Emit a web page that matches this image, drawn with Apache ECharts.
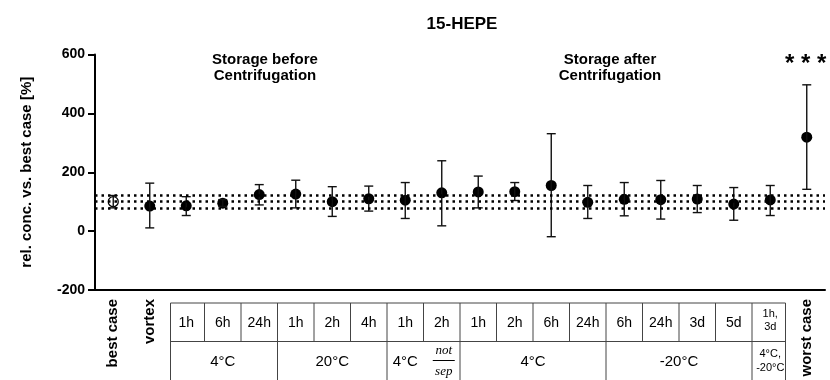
<!DOCTYPE html>
<html>
<head>
<meta charset="utf-8">
<script src="https://cdn.jsdelivr.net/npm/echarts@6/dist/echarts.min.js"></script>
<style>html,body{margin:0;padding:0;background:#fff;}#c{width:830px;height:380px;}</style>
</head>
<body>
<div id="c"></div>
<script>
// ---- data ----
var categories = ['best case','vortex','1h','6h','24h','1h','2h','4h','1h','2h','1h','2h','6h','24h','6h','24h','3d','5d','1h,\n3d','worst case'];
var rotatedLabels = ['best case','vortex','','','','','','','','','','','','','','','','','','worst case'];
var rowLabels = ['','','1h','6h','24h','1h','2h','4h','1h','2h','1h','2h','6h','24h','6h','24h','3d','5d','1h,\n3d',''];
var means = [100, 85, 86, 95, 124, 126, 100, 110, 105, 130, 133, 134, 155, 98, 108, 107, 109, 92, 106, 319];
var upper = [121, 163, 117, 107, 158, 173, 151, 153, 165, 239, 187, 165, 331, 155, 165, 172, 155, 148, 155, 497];
var lower = [79, 11, 53, 84, 89, 79, 50, 68, 43, 18, 79, 104, -19, 43, 52, 41, 63, 37, 53, 142];
var refLines = [121, 100, 79];
var groups = [
  {label:'4°C', from:2, to:4},
  {label:'20°C', from:5, to:7},
  {label:'4°C', from:8, to:9, note:true},
  {label:'4°C', from:10, to:13},
  {label:'-20°C', from:14, to:17},
  {label:'4°C,\n-20°C', from:18, to:18, small:true}
];
var yTicks = [-200, 0, 200, 400, 600];

var FONT = '"Liberation Sans", Arial, sans-serif';
var idx = categories.map(function(_, i){ return String(i); });

var chart = echarts.init(document.getElementById('c'), null, {renderer:'canvas'});

var filled = [], open = [];
means.forEach(function(v, i){
  if (i === 0) open.push([String(i), v]); else filled.push([String(i), v]);
});
var errData = means.map(function(v, i){ return [String(i), lower[i], upper[i]]; });

var option = {
  animation: false,
  backgroundColor: '#fff',
  title: {
    text: '15-HEPE', left: 457, top: 11, textAlign: 'center',
    textStyle: {fontFamily: FONT, fontSize: 17, fontWeight: 'bold', color: '#000'}
  },
  grid: {left: 95, right: 5, top: 54.5, bottom: 90, containLabel: false},
  xAxis: {
    type: 'category', data: idx,
    axisLine: {onZero: false, lineStyle: {color: '#000', width: 2}},
    axisTick: {alignWithLabel: true, interval: 0, length: 6, lineStyle: {color: '#000', width: 2}},
    axisLabel: {
      interval: 0, rotate: 90, margin: 9,
      fontFamily: FONT, fontSize: 15, fontWeight: 'bold', color: '#000',
      formatter: function(v){ return rotatedLabels[+v]; }
    },
    splitLine: {show: false}
  },
  yAxis: {
    type: 'value', min: -200, max: 600, interval: 200,
    name: 'rel. conc. vs. best case [%]', nameLocation: 'middle', nameGap: 61,
    nameTextStyle: {fontFamily: FONT, fontSize: 15, fontWeight: 'bold', color: '#000'},
    axisLine: {show: true, lineStyle: {color: '#000', width: 2}},
    axisTick: {show: true, length: 7, lineStyle: {color: '#000', width: 2}},
    axisLabel: {margin: 10, fontFamily: FONT, fontSize: 14, fontWeight: 'bold', color: '#000',
      formatter: function(v){ return yTicks.indexOf(v) >= 0 ? String(v) : ''; }},
    splitLine: {show: false}
  },
  series: [
    {
      type: 'scatter', name: 'best', data: open, symbol: 'circle', symbolSize: 10, z: 3,
      itemStyle: {color: 'rgba(255,255,255,0)', borderColor: '#000', borderWidth: 1.3, opacity: 1},
      markLine: {
        silent: true, symbol: 'none', label: {show: false},
        lineStyle: {color: '#000', type: [2.5, 4], width: 2.5, opacity: 1},
        data: refLines.map(function(v){ return {yAxis: v}; })
      }
    },
    {
      type: 'scatter', name: 'samples', data: filled, symbol: 'circle', symbolSize: 11, z: 3,
      itemStyle: {color: '#000', opacity: 1}
    },
    {
      type: 'custom', name: 'err', data: errData, z: 4,
      renderItem: function(params, api){
        var x = api.value(0);
        var lo = api.coord([x, api.value(1)]);
        var hi = api.coord([x, api.value(2)]);
        var hw = 4.5;
        var st = {stroke: '#111', lineWidth: 1.4};
        return {type: 'group', children: [
          {type: 'line', shape: {x1: lo[0], y1: lo[1], x2: hi[0], y2: hi[1]}, style: st},
          {type: 'line', shape: {x1: hi[0]-hw, y1: hi[1], x2: hi[0]+hw, y2: hi[1]}, style: st},
          {type: 'line', shape: {x1: lo[0]-hw, y1: lo[1], x2: lo[0]+hw, y2: lo[1]}, style: st}
        ]};
      }
    }
  ]
};
chart.setOption(option);

// ---- table & annotations positioned from the chart's own scales ----
function cx(i){ return chart.convertToPixel({xAxisIndex: 0}, String(i)); }
var band = cx(1) - cx(0);
function bL(i){ return cx(i) - band/2; }
function bR(i){ return cx(i) + band/2; }

var tTop = 303, tMid = 341.5, tBot = 381;
var g = [];
var lineSt = {stroke: '#444', lineWidth: 1};
var tLeft = bL(2) + 2.5, tRight = bR(18) - 3;
g.push({type:'line', shape:{x1:tLeft, y1:tTop, x2:tRight, y2:tTop}, style: lineSt});
g.push({type:'line', shape:{x1:tLeft, y1:tMid, x2:tRight, y2:tMid}, style: lineSt});
g.push({type:'line', shape:{x1:tLeft, y1:tTop, x2:tLeft, y2:tBot}, style: lineSt});
g.push({type:'line', shape:{x1:tRight, y1:tTop, x2:tRight, y2:tBot}, style: lineSt});
for (var i = 3; i <= 18; i++) {
  g.push({type:'line', shape:{x1:bL(i), y1:tTop, x2:bL(i), y2:tMid}, style: lineSt});
}
rowLabels.forEach(function(t, i){
  if (!t) return;
  var small = t.indexOf('\n') >= 0;
  g.push({type:'text', x: cx(i), y: small ? 320 : 323, style:{
    text: t, fontFamily: FONT, fontSize: small ? 11 : 14, fill: '#000',
    align: 'center', verticalAlign: 'middle', lineHeight: small ? 13 : 16
  }});
});
groups.forEach(function(gr, k){
  if (k > 0) g.push({type:'line', shape:{x1:bL(gr.from), y1:tMid, x2:bL(gr.from), y2:tBot}, style: lineSt});
  var c = (cx(gr.from) + cx(gr.to)) / 2;
  if (gr.note) {
    g.push({type:'text', x: cx(gr.from), y: 362, style:{text: gr.label, fontFamily: FONT, fontSize: 15, fill:'#000', align:'center', verticalAlign:'middle'}});
    var nx = cx(gr.to) + 2;
    g.push({type:'text', x: nx, y: 351, style:{text:'not', fontFamily:'"Liberation Serif", serif', fontStyle:'italic', fontSize: 13, fill:'#000', align:'center', verticalAlign:'middle'}});
    g.push({type:'line', shape:{x1:nx-11, y1:360.5, x2:nx+11, y2:360.5}, style:{stroke:'#000', lineWidth:1}});
    g.push({type:'text', x: nx, y: 372, style:{text:'sep', fontFamily:'"Liberation Serif", serif', fontStyle:'italic', fontSize: 13, fill:'#000', align:'center', verticalAlign:'middle'}});
  } else if (gr.small) {
    g.push({type:'text', x: c, y: 361, style:{text: gr.label, fontFamily: FONT, fontSize: 11, fill:'#000', align:'center', verticalAlign:'middle', lineHeight: 14}});
  } else {
    g.push({type:'text', x: c, y: 362, style:{text: gr.label, fontFamily: FONT, fontSize: 15, fill:'#000', align:'center', verticalAlign:'middle'}});
  }
});
// section annotations
var ann = {fontFamily: FONT, fontSize: 15, fontWeight: 'bold', fill: '#000', align: 'center', verticalAlign: 'middle', lineHeight: 16};
g.push({type:'text', x: 265, y: 68, style: Object.assign({text: 'Storage before\nCentrifugation'}, ann)});
g.push({type:'text', x: 610, y: 68, style: Object.assign({text: 'Storage after\nCentrifugation'}, ann)});
// significance stars above worst case
var wx = cx(19);
g.push({type:'text', x: wx - 1, y: 64, style:{text:'* * *', fontFamily: FONT, fontSize: 24, fontWeight:'bold', fill:'#000', align:'center', verticalAlign:'middle'}});
chart.setOption({graphic: g});
</script>
</body>
</html>
